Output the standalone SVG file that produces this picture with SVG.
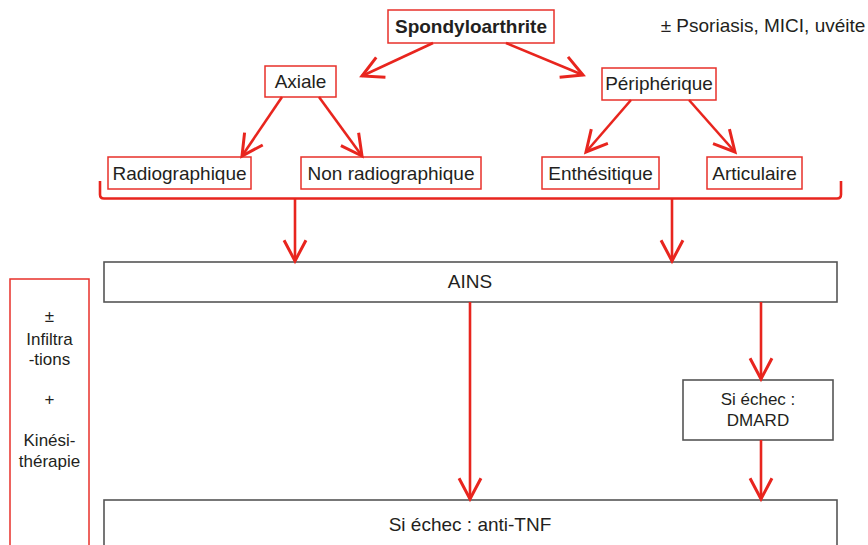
<svg xmlns="http://www.w3.org/2000/svg" width="868" height="545" viewBox="0 0 868 545">
<style>
text{font-family:"Liberation Sans",Arial,sans-serif;fill:#231f20;text-anchor:middle}
.t19{font-size:19px}
.t17{font-size:17px}
.rb{fill:#fff;stroke:#e8302a;stroke-width:1.5}
.gb{fill:#fff;stroke:#555;stroke-width:1.6}
.c{fill:none;stroke:#e8251e;stroke-width:2.6}
</style>
<defs>
<marker id="ah" markerUnits="userSpaceOnUse" markerWidth="30" markerHeight="30" viewBox="-22 -12 26 24" refX="0" refY="0" orient="auto">
<path d="M-18,-9.5 L0,0 L-18,9.5" fill="none" stroke="#e8251e" stroke-width="2.6"/>
</marker>
</defs>
<g id="spondyloarthrite"><rect class="rb" x="388" y="10" width="166" height="33" stroke-width="2"/><text class="t19" x="471" y="33" font-weight="bold">Spondyloarthrite</text></g>
<g id="note"><text class="t19" x="763" y="32">± Psoriasis, MICI, uvéite</text></g>
<g id="axiale"><rect class="rb" x="265" y="66" width="71" height="31"/><text class="t19" x="300.5" y="88">Axiale</text></g>
<g id="peripherique"><rect class="rb" x="602" y="68" width="114" height="32"/><text class="t19" x="659" y="90">Périphérique</text></g>
<g id="radiographique"><rect class="rb" x="108" y="157" width="143" height="32"/><text class="t19" x="179.5" y="180">Radiographique</text></g>
<g id="nonradio"><rect class="rb" x="301" y="157" width="180" height="32"/><text class="t19" x="391" y="180">Non radiographique</text></g>
<g id="enthesitique"><rect class="rb" x="542" y="157" width="117" height="32"/><text class="t19" x="600.5" y="180">Enthésitique</text></g>
<g id="articulaire"><rect class="rb" x="707" y="157" width="95" height="32"/><text class="t19" x="754.5" y="180">Articulaire</text></g>
<g id="ains"><rect class="gb" x="104" y="262" width="733" height="40"/><text class="t19" x="470" y="288">AINS</text></g>
<g id="dmard"><rect class="gb" x="683" y="380" width="150" height="60"/><text class="t17" x="758" y="405">Si échec :</text><text class="t17" x="758" y="426">DMARD</text></g>
<g id="antitnf"><rect class="gb" x="104" y="500" width="733" height="60"/><text class="t19" x="470" y="531">Si échec : anti-TNF</text></g>
<g id="infiltrations"><rect class="rb" x="10" y="279" width="79" height="280"/>
<text class="t17" x="49.5" y="322">±</text>
<text class="t17" x="49.5" y="345">Infiltra</text>
<text class="t17" x="49.5" y="365">-tions</text>
<text class="t17" x="49.5" y="405">+</text>
<text class="t17" x="49.5" y="446">Kinési-</text>
<text class="t17" x="49.5" y="467">thérapie</text></g>
<g id="connectors">
<line class="c" x1="433" y1="43" x2="362" y2="76" marker-end="url(#ah)"/>
<line class="c" x1="506" y1="43" x2="583" y2="75" marker-end="url(#ah)"/>
<line class="c" x1="282" y1="97" x2="242" y2="156" marker-end="url(#ah)"/>
<line class="c" x1="319" y1="97" x2="362" y2="156" marker-end="url(#ah)"/>
<line class="c" x1="631" y1="100" x2="586" y2="152" marker-end="url(#ah)"/>
<line class="c" x1="689" y1="100" x2="735" y2="152" marker-end="url(#ah)"/>
<path class="c" stroke-width="3" d="M100,181 L100,194.5 Q100,198.5 104,198.5 L837,198.5 Q841,198.5 841,194.5 L841,181"/>
<line class="c" x1="295" y1="198.5" x2="295" y2="261" marker-end="url(#ah)"/>
<line class="c" x1="672" y1="198.5" x2="672" y2="261" marker-end="url(#ah)"/>
<line class="c" x1="470" y1="302" x2="470" y2="499" marker-end="url(#ah)"/>
<line class="c" x1="761" y1="302" x2="761" y2="379" marker-end="url(#ah)"/>
<line class="c" x1="761" y1="440" x2="761" y2="499" marker-end="url(#ah)"/>
</g>
</svg>
